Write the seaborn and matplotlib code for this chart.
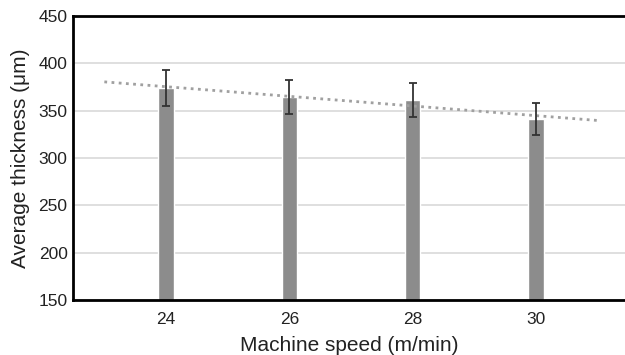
import matplotlib
matplotlib.use("Agg")
import matplotlib.pyplot as plt
import seaborn as sns
import numpy as np
import pandas as pd

speeds = ["24", "26", "28", "30"]
thickness = [374, 364, 361, 341]
errors = [19, 18, 18, 17]

sns.set_style("white")
plt.rcParams['font.family'] = ['Liberation Sans', 'DejaVu Sans']

df = pd.DataFrame({"speed": speeds, "thickness": thickness})

fig = plt.figure(figsize=(6.25, 3.55), dpi=100)
ax = fig.add_axes([0.117, 0.155, 0.883, 0.8])

ax.yaxis.grid(True, color="#d9d9d9", lw=1.2)
ax.set_axisbelow(True)

sns.barplot(data=df, x="speed", y="thickness", color="#8c8c8c", width=0.125,
            saturation=1, ax=ax, zorder=2)
xs = np.arange(len(speeds))
ax.errorbar(xs, thickness, yerr=errors, fmt="none", ecolor="#333333",
            elinewidth=1.3, capsize=3.2, capthick=1.3, zorder=4)

# linear trend line
coef = np.polyfit(xs, thickness, 1)
tx = np.array([-0.5, 3.5])
ax.plot(tx, np.polyval(coef, tx), color="#a0a0a0", lw=2,
        linestyle=(0, (1, 1.6)), zorder=3)

ax.set_ylim(150, 450)
ax.set_yticks([150, 200, 250, 300, 350, 400, 450])
ax.set_xlim(-0.753, 3.72)

for s in ["left", "bottom", "top"]:
    ax.spines[s].set_visible(True)
    ax.spines[s].set_color("black")
    ax.spines[s].set_linewidth(2)
ax.spines["right"].set_visible(False)

ax.tick_params(axis="y", length=0, labelsize=12.5, colors="#222222", pad=4)
ax.tick_params(axis="x", length=0, labelsize=12.5, colors="#222222", pad=9)
ax.set_xlabel("Machine speed (m/min)", fontsize=15, color="#222222", labelpad=6)
ax.set_ylabel("Average thickness (μm)", fontsize=15, color="#222222", labelpad=6)

fig.savefig("out.png", dpi=100)
